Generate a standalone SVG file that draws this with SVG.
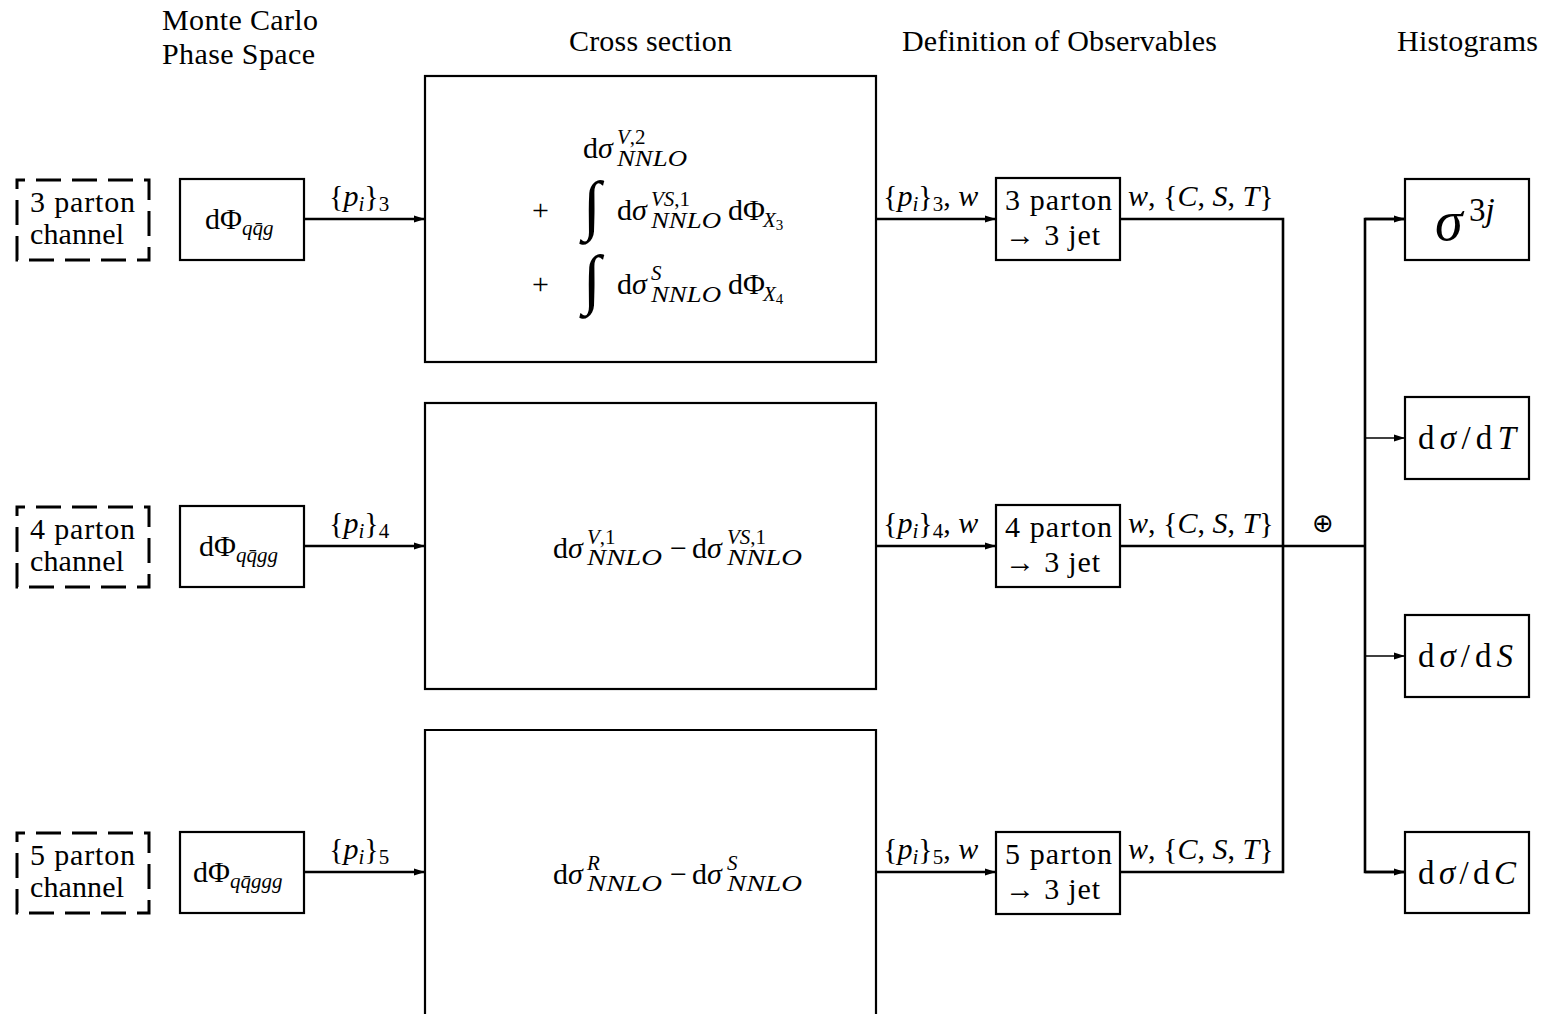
<svg xmlns="http://www.w3.org/2000/svg" width="1544" height="1014" viewBox="0 0 1544 1014" font-family="'Liberation Serif', Tinos, 'Times New Roman', 'DejaVu Serif', serif">
<style>
.t{font-family:"Liberation Serif",Tinos,"Times New Roman","DejaVu Serif",serif;font-size:30px;fill:#000}
.s{font-size:21px}
.n{font-size:23px;font-style:italic}
.i{font-style:italic}
.h{font-size:33px}
.box{fill:none;stroke:#000;stroke-width:2.2}
.dash{fill:none;stroke:#000;stroke-width:3;stroke-dasharray:25 11;stroke-dashoffset:17}
.conn{fill:none;stroke:#000;stroke-width:2.6}
.thin{stroke-width:1.6}
.int{font-family:"Liberation Serif",Tinos,"DejaVu Serif",serif;font-size:66px;fill:#000}
</style>
<defs>
<marker id="arr" markerUnits="userSpaceOnUse" markerWidth="12" markerHeight="8" refX="11" refY="4" orient="auto">
<path d="M0,0.5 L11,4 L0,7.5 z" fill="#000"/>
</marker>
</defs>
<rect width="1544" height="1014" fill="#fff"/>

<g id="headers">
<text class="t" x="162" y="30" textLength="156">Monte Carlo</text>
<text class="t" x="162" y="64" textLength="153">Phase Space</text>
<text class="t" x="569" y="51" textLength="163">Cross section</text>
<text class="t" x="902" y="51" textLength="315">Definition of Observables</text>
<text class="t" x="1397" y="51" textLength="141">Histograms</text>
</g>

<g id="channel3">
<rect class="dash" x="17" y="180" width="132" height="80"/>
<text class="t" x="30" y="212" textLength="105">3 parton</text>
<text class="t" x="30" y="244" textLength="94">channel</text>
</g>
<g id="channel4">
<rect class="dash" x="17" y="507" width="132" height="80"/>
<text class="t" x="30" y="539" textLength="105">4 parton</text>
<text class="t" x="30" y="571" textLength="94">channel</text>
</g>
<g id="channel5">
<rect class="dash" x="17" y="833" width="132" height="80"/>
<text class="t" x="30" y="865" textLength="105">5 parton</text>
<text class="t" x="30" y="897" textLength="94">channel</text>
</g>

<g id="ps3">
<rect class="box" x="180" y="179" width="124" height="81"/>
<text class="t" x="205" y="229">dΦ<tspan class="s i" dy="6">qq̄g</tspan></text>
</g>
<g id="ps4">
<rect class="box" x="180" y="506" width="124" height="81"/>
<text class="t" x="199" y="556">dΦ<tspan class="s i" dy="6">qq̄gg</tspan></text>
</g>
<g id="ps5">
<rect class="box" x="180" y="832" width="124" height="81"/>
<text class="t" x="193" y="882">dΦ<tspan class="s i" dy="6">qq̄ggg</tspan></text>
</g>

<g id="xs3">
<rect class="box" x="425" y="76" width="451" height="286"/>
<text class="t" x="583" y="158">d<tspan class="i">σ</tspan></text>
<text class="t s" x="617" y="144"><tspan class="i">V</tspan>,2</text>
<text class="t n" x="617" y="166" textLength="70" lengthAdjust="spacingAndGlyphs">NNLO</text>
<text class="t" x="532" y="220">+</text>
<text class="int" x="583" y="227">∫</text>
<text class="t" x="617" y="220">d<tspan class="i">σ</tspan></text>
<text class="t s" x="651" y="206"><tspan class="i">VS</tspan>,1</text>
<text class="t n" x="651" y="228" textLength="70" lengthAdjust="spacingAndGlyphs">NNLO</text>
<text class="t" x="728" y="220">dΦ</text>
<text class="t s i" x="763" y="227">X<tspan font-size="15" font-style="normal" dy="3">3</tspan></text>
<text class="t" x="532" y="294">+</text>
<text class="int" x="583" y="301">∫</text>
<text class="t" x="617" y="294">d<tspan class="i">σ</tspan></text>
<text class="t s i" x="651" y="280">S</text>
<text class="t n" x="651" y="302" textLength="70" lengthAdjust="spacingAndGlyphs">NNLO</text>
<text class="t" x="728" y="294">dΦ</text>
<text class="t s i" x="763" y="301">X<tspan font-size="15" font-style="normal" dy="3">4</tspan></text>
</g>

<g id="xs4">
<rect class="box" x="425" y="403" width="451" height="286"/>
<text class="t" x="553" y="558">d<tspan class="i">σ</tspan></text>
<text class="t s" x="587" y="544"><tspan class="i">V</tspan>,1</text>
<text class="t n" x="587" y="565" textLength="75" lengthAdjust="spacingAndGlyphs">NNLO</text>
<text class="t" x="670" y="558">−</text>
<text class="t" x="692" y="558">d<tspan class="i">σ</tspan></text>
<text class="t s" x="727" y="544"><tspan class="i">VS</tspan>,1</text>
<text class="t n" x="727" y="565" textLength="75" lengthAdjust="spacingAndGlyphs">NNLO</text>
</g>

<g id="xs5">
<path class="box" d="M425,1020 V730 H876 V1020"/>
<text class="t" x="553" y="884">d<tspan class="i">σ</tspan></text>
<text class="t s i" x="587" y="870">R</text>
<text class="t n" x="587" y="891" textLength="75" lengthAdjust="spacingAndGlyphs">NNLO</text>
<text class="t" x="670" y="884">−</text>
<text class="t" x="692" y="884">d<tspan class="i">σ</tspan></text>
<text class="t s i" x="727" y="870">S</text>
<text class="t n" x="727" y="891" textLength="75" lengthAdjust="spacingAndGlyphs">NNLO</text>
</g>

<g id="obs3">
<rect class="box" x="996" y="178" width="124" height="82"/>
<text class="t" x="1005" y="210" textLength="107">3 parton</text>
<text class="t" x="1005" y="245" textLength="95">→ 3 jet</text>
</g>
<g id="obs4">
<rect class="box" x="996" y="505" width="124" height="82"/>
<text class="t" x="1005" y="537" textLength="107">4 parton</text>
<text class="t" x="1005" y="572" textLength="95">→ 3 jet</text>
</g>
<g id="obs5">
<rect class="box" x="996" y="832" width="124" height="82"/>
<text class="t" x="1005" y="864" textLength="107">5 parton</text>
<text class="t" x="1005" y="899" textLength="95">→ 3 jet</text>
</g>

<g id="hist-sigma">
<rect class="box" x="1405" y="179" width="124" height="81"/>
<text class="t i" x="1435" y="240" style="font-size:56px">σ</text>
<text class="t" x="1469" y="221" style="font-size:33px">3<tspan class="i">j</tspan></text>
</g>
<g id="hist-T">
<rect class="box" x="1405" y="397" width="124" height="82"/>
<text class="t h" x="1418" y="449" textLength="98">d<tspan class="i">σ</tspan>/d<tspan class="i">T</tspan></text>
</g>
<g id="hist-S">
<rect class="box" x="1405" y="615" width="124" height="82"/>
<text class="t h" x="1418" y="667" textLength="95">d<tspan class="i">σ</tspan>/d<tspan class="i">S</tspan></text>
</g>
<g id="hist-C">
<rect class="box" x="1405" y="832" width="124" height="81"/>
<text class="t h" x="1418" y="884" textLength="98">d<tspan class="i">σ</tspan>/d<tspan class="i">C</tspan></text>
</g>

<g id="connectors">
<path class="conn" d="M304,219 H425" marker-end="url(#arr)"/>
<path class="conn" d="M304,546 H425" marker-end="url(#arr)"/>
<path class="conn" d="M304,872 H425" marker-end="url(#arr)"/>
<path class="conn" d="M876,219 H996" marker-end="url(#arr)"/>
<path class="conn" d="M876,546 H996" marker-end="url(#arr)"/>
<path class="conn" d="M876,872 H996" marker-end="url(#arr)"/>
<path class="conn" d="M1120,219 H1283 V872 H1120"/>
<path class="conn" d="M1120,546 H1365"/>
<path class="conn" d="M1405,219 H1365 V872 H1405"/>
<path class="conn" d="M1365,219 H1405" marker-end="url(#arr)"/>
<path class="conn" d="M1365,872 H1405" marker-end="url(#arr)"/>
<path class="conn thin" d="M1365,438 H1405" marker-end="url(#arr)"/>
<path class="conn thin" d="M1365,656 H1405" marker-end="url(#arr)"/>
<text x="1323" y="532" text-anchor="middle" font-family="DejaVu Sans" font-size="26" fill="#000">⊕</text>
<text class="t" x="329" y="206">{<tspan class="i">p</tspan><tspan class="s i" dy="5">i</tspan><tspan dy="-5">}</tspan><tspan class="s" dy="5">3</tspan></text>
<text class="t" x="329" y="533">{<tspan class="i">p</tspan><tspan class="s i" dy="5">i</tspan><tspan dy="-5">}</tspan><tspan class="s" dy="5">4</tspan></text>
<text class="t" x="329" y="859">{<tspan class="i">p</tspan><tspan class="s i" dy="5">i</tspan><tspan dy="-5">}</tspan><tspan class="s" dy="5">5</tspan></text>
<text class="t" x="883" y="206">{<tspan class="i">p</tspan><tspan class="s i" dy="5">i</tspan><tspan dy="-5">}</tspan><tspan class="s" dy="5">3</tspan><tspan dy="-5">, </tspan><tspan class="i">w</tspan></text>
<text class="t" x="883" y="533">{<tspan class="i">p</tspan><tspan class="s i" dy="5">i</tspan><tspan dy="-5">}</tspan><tspan class="s" dy="5">4</tspan><tspan dy="-5">, </tspan><tspan class="i">w</tspan></text>
<text class="t" x="883" y="859">{<tspan class="i">p</tspan><tspan class="s i" dy="5">i</tspan><tspan dy="-5">}</tspan><tspan class="s" dy="5">5</tspan><tspan dy="-5">, </tspan><tspan class="i">w</tspan></text>
<text class="t" x="1128" y="206"><tspan class="i">w</tspan>, {<tspan class="i">C</tspan>, <tspan class="i">S</tspan>, <tspan class="i">T</tspan>}</text>
<text class="t" x="1128" y="533"><tspan class="i">w</tspan>, {<tspan class="i">C</tspan>, <tspan class="i">S</tspan>, <tspan class="i">T</tspan>}</text>
<text class="t" x="1128" y="859"><tspan class="i">w</tspan>, {<tspan class="i">C</tspan>, <tspan class="i">S</tspan>, <tspan class="i">T</tspan>}</text>
</g>
</svg>
